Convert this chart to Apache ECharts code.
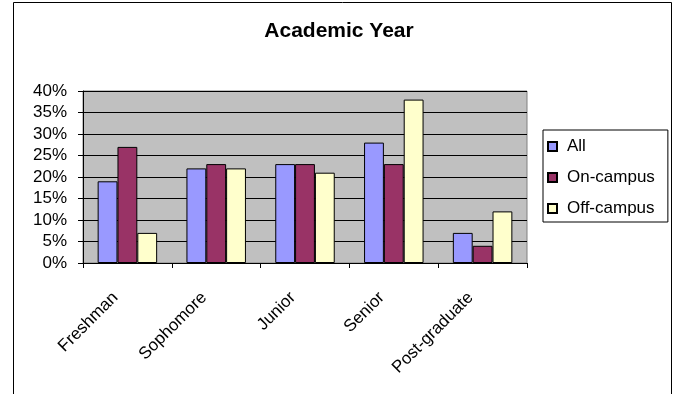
<!DOCTYPE html>
<html>
<head>
<meta charset="utf-8">
<script src="https://cdn.jsdelivr.net/npm/echarts@6/dist/echarts.min.js"></script>
<style>
html,body{margin:0;padding:0;background:#fff;}
#chart{width:678px;height:394px;}
</style>
</head>
<body>
<div id="chart"></div>
<script>
const categories = ['Freshman', 'Sophomore', 'Junior', 'Senior', 'Post-graduate'];
const allValues = [19, 22, 23, 28, 7];
const onCampus = [27, 23, 23, 23, 4];
const offCampus = [7, 22, 21, 38, 12];
const yTicks = { min: 0, max: 40, interval: 5 };

const FONT = '"Liberation Sans", Arial, sans-serif';
const chart = echarts.init(document.getElementById('chart'));
const barStyle = (c) => ({ color: c, borderColor: '#000', borderWidth: 1 });

chart.setOption({
  animation: false,
  backgroundColor: '#fff',
  textStyle: { fontFamily: FONT },
  title: {
    text: 'Academic Year',
    left: 'center',
    top: 21,
    padding: 0,
    textStyle: { fontFamily: FONT, fontSize: 21, fontWeight: 'bold', color: '#000' }
  },
  graphic: [{
    type: 'rect',
    shape: { x: 13.5, y: 2.5, width: 658, height: 420 },
    style: { fill: 'none', stroke: '#000', lineWidth: 1 },
    silent: true, z: 100
  }],
  legend: {
    orient: 'vertical',
    left: 543,
    top: 130,
    padding: [8, 13, 5, 4],
    itemWidth: 9,
    itemHeight: 9,
    itemGap: 14,
    backgroundColor: '#fff',
    borderColor: '#000',
    borderWidth: 1,
    icon: 'rect',
    textStyle: { fontFamily: FONT, fontSize: 17, color: '#000', padding: [0, 0, 0, 5] },
    data: ['All', 'On-campus', 'Off-campus']
  },
  grid: {
    left: 83, right: 151, top: 91, bottom: 131,
    show: true,
    backgroundColor: '#C0C0C0',
    borderColor: '#808080',
    borderWidth: 1
  },
  xAxis: {
    type: 'category',
    data: categories,
    axisLine: { show: true, lineStyle: { color: '#000', width: 1 } },
    axisTick: { show: true, length: 5, alignWithLabel: false, lineStyle: { color: '#000' } },
    axisLabel: {
      rotate: 45, margin: 20, padding: [0, 17, 0, 0],
      fontFamily: FONT, fontSize: 17, color: '#000', interval: 0
    },
    splitLine: { show: false }
  },
  yAxis: {
    type: 'value',
    min: yTicks.min, max: yTicks.max, interval: yTicks.interval,
    axisLine: { show: true, lineStyle: { color: '#000', width: 1 } },
    axisTick: { show: true, length: 5, inside: false, lineStyle: { color: '#000' } },
    axisLabel: { formatter: '{value}%', margin: 16, fontFamily: FONT, fontSize: 17, color: '#000' },
    splitLine: { show: true, lineStyle: { color: '#000', width: 1 } }
  },
  series: [
    { name: 'All', type: 'bar', data: allValues, itemStyle: barStyle('#9999FF'), barGap: '0%', barCategoryGap: '33%' },
    { name: 'On-campus', type: 'bar', data: onCampus, itemStyle: barStyle('#993366'), barGap: '0%', barCategoryGap: '33%' },
    { name: 'Off-campus', type: 'bar', data: offCampus, itemStyle: barStyle('#FFFFCC'), barGap: '0%', barCategoryGap: '33%' }
  ]
});
</script>
</body>
</html>
